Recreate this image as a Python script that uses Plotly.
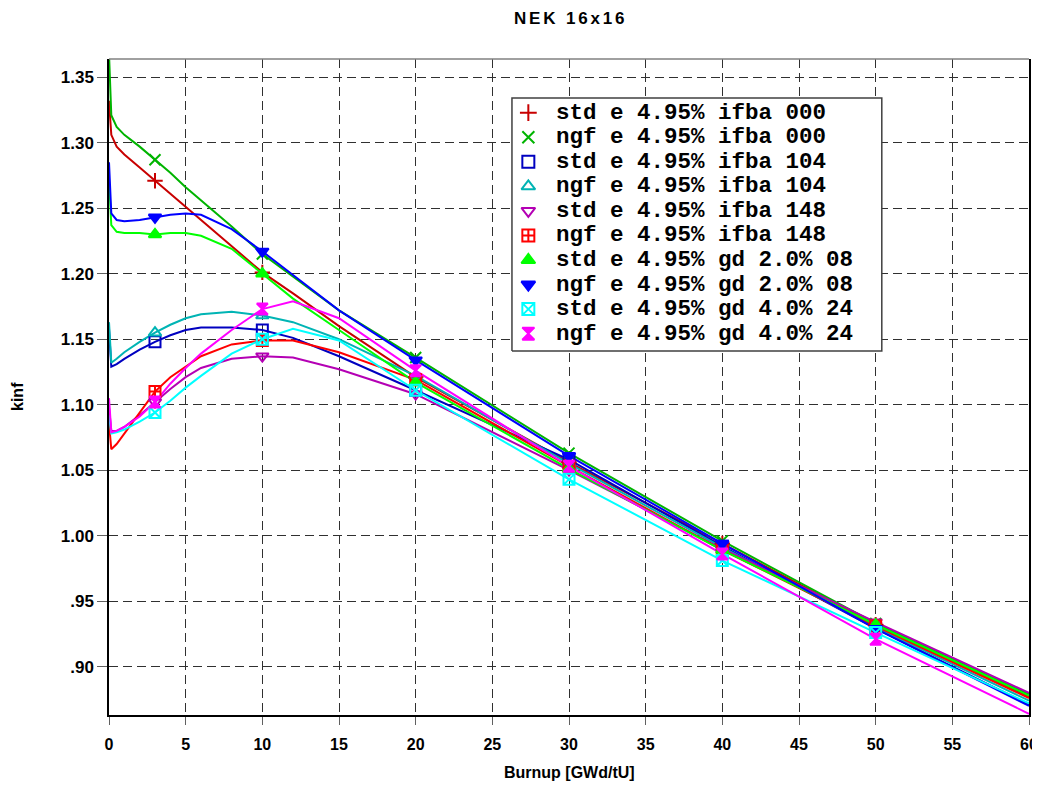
import plotly.graph_objects as go

# ---------------- data ----------------
BURNUP = [0, 0.15, 0.5, 1, 2, 3, 4, 5, 6, 8, 10, 12, 15, 20, 30, 40, 50, 60]
MARKER_BURNUP = [3, 10, 20, 30, 40, 50]

STD_IFBA_000 = [1.332, 1.306, 1.297, 1.291, 1.281, 1.271, 1.261, 1.251, 1.241, 1.221, 1.201, 1.185, 1.160, 1.121, 1.056, 0.994, 0.932, 0.877]
NGF_IFBA_000 = [1.368, 1.321, 1.312, 1.306, 1.297, 1.287, 1.277, 1.266, 1.256, 1.236, 1.215, 1.198, 1.172, 1.136, 1.063, 0.996, 0.933, 0.879]
STD_IFBA_104 = [1.158, 1.129, 1.131, 1.135, 1.142, 1.148, 1.153, 1.157, 1.159, 1.159, 1.157, 1.151, 1.137, 1.111, 1.058, 0.992, 0.929, 0.871]
NGF_IFBA_104 = [1.163, 1.132, 1.135, 1.140, 1.148, 1.155, 1.161, 1.166, 1.169, 1.171, 1.168, 1.163, 1.150, 1.122, 1.055, 0.991, 0.930, 0.874]
STD_IFBA_148 = [1.098, 1.080, 1.080, 1.083, 1.092, 1.102, 1.112, 1.121, 1.128, 1.135, 1.137, 1.136, 1.127, 1.108, 1.050, 0.990, 0.934, 0.880]
NGF_IFBA_148 = [1.086, 1.066, 1.070, 1.078, 1.094, 1.110, 1.121, 1.129, 1.137, 1.146, 1.149, 1.149, 1.140, 1.119, 1.053, 0.989, 0.931, 0.876]
STD_GD2_08 = [1.273, 1.237, 1.232, 1.231, 1.231, 1.230, 1.231, 1.231, 1.229, 1.219, 1.200, 1.181, 1.157, 1.117, 1.051, 0.989, 0.932, 0.878]
NGF_GD2_08 = [1.285, 1.246, 1.241, 1.240, 1.241, 1.243, 1.245, 1.246, 1.245, 1.234, 1.217, 1.199, 1.172, 1.134, 1.061, 0.994, 0.929, 0.870]
STD_GD4_24 = [1.092, 1.078, 1.079, 1.081, 1.087, 1.094, 1.103, 1.113, 1.122, 1.139, 1.150, 1.158, 1.149, 1.111, 1.043, 0.981, 0.926, 0.872]
NGF_GD4_24 = [1.105, 1.079, 1.080, 1.083, 1.091, 1.102, 1.116, 1.128, 1.139, 1.157, 1.173, 1.179, 1.166, 1.126, 1.053, 0.986, 0.921, 0.864]

SERIES_NAMES = [
    "std e 4.95% ifba 000",
    "ngf e 4.95% ifba 000",
    "std e 4.95% ifba 104",
    "ngf e 4.95% ifba 104",
    "std e 4.95% ifba 148",
    "ngf e 4.95% ifba 148",
    "std e 4.95% gd 2.0% 08",
    "ngf e 4.95% gd 2.0% 08",
    "std e 4.95% gd 4.0% 24",
    "ngf e 4.95% gd 4.0% 24",
]
SERIES_VALUES = [STD_IFBA_000, NGF_IFBA_000, STD_IFBA_104, NGF_IFBA_104, STD_IFBA_148,
                 NGF_IFBA_148, STD_GD2_08, NGF_GD2_08, STD_GD4_24, NGF_GD4_24]

X_TICK_VALUES = [0, 5, 10, 15, 20, 25, 30, 35, 40, 45, 50, 55, 60]
Y_TICK_VALUES = [0.90, 0.95, 1.00, 1.05, 1.10, 1.15, 1.20, 1.25, 1.30, 1.35]
Y_TICK_LABELS = [".90", ".95", "1.00", "1.05", "1.10", "1.15", "1.20", "1.25", "1.30", "1.35"]

TITLE = "NEK 16x16"
X_TITLE = "Burnup [GWd/tU]"
Y_TITLE = "kinf"

# ---------------- styles ----------------
COLORS = ["#C80000", "#00B400", "#0000C0", "#00B4B4", "#B400B4",
          "#FF0000", "#00FF00", "#0000FF", "#00FFFF", "#FF00FF"]
SYMBOLS = ["cross-thin-open", "x-thin-open", "square-open", "triangle-up-open", "triangle-down-open",
           "square-cross-open", "triangle-up", "triangle-down", "square-x-open", "hourglass"]

LABEL_FONT = "Liberation Sans, Arial, sans-serif"
LEGEND_FONT = "Liberation Mono, Courier New, monospace"

fig = go.Figure()

for name, vals, col in zip(SERIES_NAMES, SERIES_VALUES, COLORS):
    fig.add_trace(go.Scatter(x=BURNUP, y=vals, mode="lines", name=name,
                             line=dict(color=col, width=2), showlegend=False))
for name, vals, col, sym in zip(SERIES_NAMES, SERIES_VALUES, COLORS, SYMBOLS):
    mx = [b for b in BURNUP if b in MARKER_BURNUP]
    my = [v for b, v in zip(BURNUP, vals) if b in MARKER_BURNUP]
    fig.add_trace(go.Scatter(x=mx, y=my, mode="markers", name=name, showlegend=False,
                             marker=dict(symbol=sym, size=11, color=col,
                                         line=dict(color=col, width=2))))

# ---------------- manual legend (overlay axes in plot-fraction units) ----------------
LEG_X0, LEG_X1, LEG_Y0, LEG_Y1 = 0.438, 0.840, 0.555, 0.9405
ROW_TOP_PX, ROW_STEP_PX = 112.7, 24.55
PLOT_TOP_PX, PLOT_H_PX = 59, 656
fig.add_trace(go.Scatter(x=[LEG_X0, LEG_X1, LEG_X1, LEG_X0, LEG_X0],
                         y=[LEG_Y0, LEG_Y0, LEG_Y1, LEG_Y1, LEG_Y0],
                         xaxis="x2", yaxis="y2", mode="lines", fill="toself",
                         fillcolor="white", line=dict(color="#404040", width=1.5),
                         showlegend=False, hoverinfo="skip"))
row_y = [1 - (ROW_TOP_PX + ROW_STEP_PX * i - PLOT_TOP_PX) / PLOT_H_PX for i in range(len(SERIES_NAMES))]
for i, (name, col, sym) in enumerate(zip(SERIES_NAMES, COLORS, SYMBOLS)):
    fig.add_trace(go.Scatter(x=[0.4558], y=[row_y[i]], xaxis="x2", yaxis="y2", mode="markers",
                             marker=dict(symbol=sym, size=12, color=col, line=dict(color=col, width=2)),
                             showlegend=False, hoverinfo="skip"))
    fig.add_annotation(x=0.484, y=row_y[i], xref="paper", yref="paper", text=name,
                       showarrow=False, xanchor="left", yanchor="middle",
                       font=dict(family=LEGEND_FONT, size=22.5, color="black", weight="bold"))

GRID = dict(showgrid=True, gridcolor="#303030", gridwidth=1, griddash="9px,5px")

# page body has an 8px default margin, so the figure is sized 8px smaller on each axis
fig.update_layout(
    width=1032, height=777,
    margin=dict(l=101, r=11, t=51, b=70),
    paper_bgcolor="white", plot_bgcolor="white",
    showlegend=False,
    xaxis=dict(range=[0, 60], tickvals=X_TICK_VALUES, ticks="outside", ticklen=8,
               tickcolor="#606060", showline=True, linecolor="black", linewidth=1.5,
               zeroline=False, automargin=False, ticklabelstandoff=6,
               tickfont=dict(family=LABEL_FONT, size=16, color="black", weight="bold"),
               **GRID),
    yaxis=dict(range=[0.8631, 1.3639], tickvals=Y_TICK_VALUES, ticktext=Y_TICK_LABELS,
               ticks="outside", ticklen=10, tickcolor="#606060", showline=True,
               linecolor="black", linewidth=1.5, mirror=True, zeroline=False, automargin=False,
               tickfont=dict(family=LABEL_FONT, size=17, color="black", weight="bold"),
               **GRID),
    xaxis2=dict(overlaying="x", range=[0, 1], visible=False, fixedrange=True, automargin=False),
    yaxis2=dict(overlaying="y", range=[0, 1], visible=False, fixedrange=True, automargin=False),
)

# top border (gray)
fig.add_shape(type="line", xref="paper", yref="paper", x0=0, x1=1, y0=1, y1=1,
              line=dict(color="#808080", width=1.5))

fig.add_annotation(x=0.5, y=1, xref="paper", yref="paper", yshift=41, text="\u2006".join(TITLE),
                   showarrow=False, xanchor="center", yanchor="middle",
                   font=dict(family=LABEL_FONT, size=17, color="black", weight="bold"))
fig.add_annotation(x=0.5, y=-0.0884, xref="paper", yref="paper", text=X_TITLE,
                   showarrow=False, xanchor="center", yanchor="middle",
                   font=dict(family=LABEL_FONT, size=16, color="black", weight="bold"))
fig.add_annotation(x=-0.0989, y=0.4848, xref="paper", yref="paper", text=Y_TITLE, textangle=-90,
                   showarrow=False, xanchor="center", yanchor="middle",
                   font=dict(family=LABEL_FONT, size=16, color="black", weight="bold"))

fig.write_html("out.html")
